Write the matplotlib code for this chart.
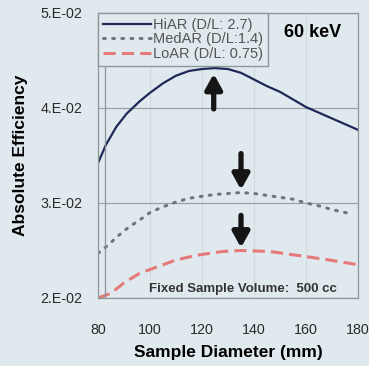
import numpy as np
import matplotlib.pyplot as plt

plt.rcParams['font.family'] = ['Liberation Sans', 'DejaVu Sans']

# sample diameter (mm) vs absolute efficiency, 500 cc fixed volume, 60 keV
diam_hi = [80, 83, 87, 91, 96, 100, 105, 110, 115, 120, 125, 130, 135, 140, 145, 150, 160, 170, 180]
eff_hi = [0.0342, 0.0361, 0.0380, 0.0394, 0.0407, 0.0416, 0.0426, 0.0434, 0.0439, 0.0441, 0.0442,
          0.0441, 0.0437, 0.0430, 0.0423, 0.0417, 0.0401, 0.0389, 0.0377]

diam_med = [80, 84, 88, 92, 96, 100, 105, 110, 115, 120, 125, 130, 135, 140, 145, 150, 155, 160,
            165, 170, 175, 178]
eff_med = [0.0247, 0.0256, 0.0266, 0.0275, 0.0282, 0.0290, 0.0296, 0.0301, 0.0305, 0.0307, 0.0309,
           0.0310, 0.0311, 0.0310, 0.0308, 0.0306, 0.0304, 0.0300, 0.0297, 0.0293, 0.0290, 0.0288]

diam_lo = [80, 85, 90, 96, 103, 110, 118, 128, 135, 146, 159, 169, 180]
eff_lo = [0.0200, 0.0205, 0.0216, 0.0226, 0.0233, 0.0240, 0.0245, 0.0249, 0.0250, 0.0249, 0.0244,
          0.0240, 0.0235]

labels = ['HiAR (D/L: 2.7)', 'MedAR (D/L:1.4)', 'LoAR (D/L: 0.75)']
xticks = [80, 100, 120, 140, 160, 180]
yticks = [0.02, 0.03, 0.04, 0.05]
ytick_labels = ['2.E-02', '3.E-02', '4.E-02', '5.E-02']

# arrows mark the maximum of each curve: (x, tail, head)
arrows = [(124.5, 0.0399, 0.0436), (135, 0.0352, 0.0314), (135, 0.0287, 0.0253)]

bg = '#e0e9ed'
fig = plt.figure(figsize=(3.69, 3.66), dpi=100, facecolor=bg)
ax = fig.add_axes([0.2656, 0.1858, 0.7046, 0.7787], facecolor=bg)

ax.plot(diam_hi, eff_hi, color='#1f2858', lw=1.6, label=labels[0])
ax.plot(diam_med, eff_med, color='#6f777d', lw=2.2, ls=(0, (0.6, 2.4)),
        dash_capstyle='round', label=labels[1])
ax.plot(diam_lo, eff_lo, color='#e6797a', lw=2.2, ls=(0, (4, 2)), label=labels[2])

for x, y0, y1 in arrows:
    ax.annotate('', xy=(x, y1), xytext=(x, y0),
                arrowprops=dict(arrowstyle='-|>,head_width=0.5,head_length=0.9',
                                lw=3.8, color='#151515', shrinkA=0, shrinkB=0))

ax.set_xlim(80, 180)
ax.set_ylim(0.02, 0.05)
ax.set_xticks(xticks)
ax.set_yticks(yticks)
ax.set_yticklabels(ytick_labels)
ax.grid(axis='y', color='#9aa2a6', lw=0.9)
ax.grid(axis='x', color='#d0d9dc', lw=0.8)
ax.axvline(82.7, color='#8e969a', lw=0.9)
ax.tick_params(length=0, labelsize=10.3, colors='#2a2a2a')
ax.tick_params(axis='y', pad=11)
ax.tick_params(axis='x', pad=18)
for s in ax.spines.values():
    s.set_color('#8e969a')
    s.set_linewidth(0.9)

ax.set_xlabel('Sample Diameter (mm)', fontsize=12.5, fontweight='bold', labelpad=6)
ax.set_ylabel('Absolute Efficiency', fontsize=12.5, fontweight='bold', labelpad=9)

ax.text(0.827, 0.93, '60 keV', transform=ax.transAxes, fontsize=13, fontweight='bold',
        ha='center', va='center')
ax.text(0.558, 0.032, 'Fixed Sample Volume:  500 cc', transform=ax.transAxes, fontsize=9.5,
        fontweight='bold', ha='center', va='center', color='#333333')

leg = ax.legend(loc='upper left', bbox_to_anchor=(0.0, 1.0), fontsize=10.5, frameon=True,
                fancybox=False, handlelength=3.3, handletextpad=0.1, borderpad=0.35,
                labelspacing=0.02, borderaxespad=0.0)
leg.get_frame().set_facecolor(bg)
leg.get_frame().set_edgecolor('#8e969a')
leg.get_frame().set_alpha(1)
for t in leg.get_texts():
    t.set_color('#555555')

fig.savefig('out.png', dpi=100, facecolor=bg)
